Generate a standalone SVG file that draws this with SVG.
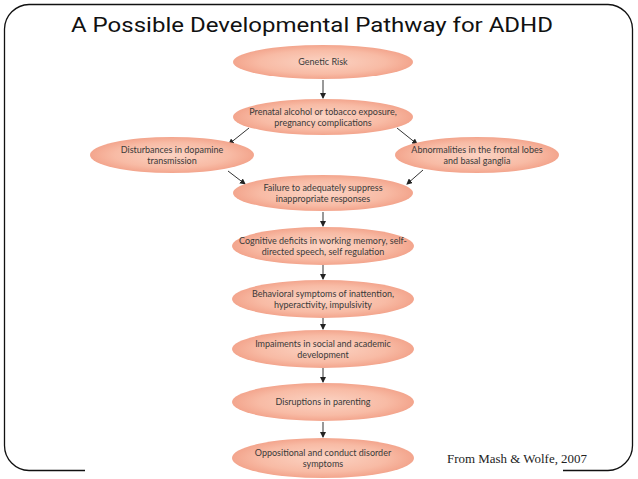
<svg xmlns="http://www.w3.org/2000/svg" width="638" height="479" viewBox="0 0 638 479">
<defs>
<radialGradient id="g" cx="50%" cy="50%" r="50%">
<stop offset="0%" stop-color="#fbd3c3"/>
<stop offset="70%" stop-color="#f8bba5"/>
<stop offset="100%" stop-color="#f3a58d"/>
</radialGradient>
<marker id="ah" markerWidth="6" markerHeight="6" refX="5" refY="3" orient="auto" markerUnits="userSpaceOnUse">
<path d="M0,0 L6,3 L0,6 z" fill="#222"/>
</marker>
<style>
.n ellipse{fill:url(#g);}
.n text{font-family:"Lato","Liberation Sans",sans-serif;font-size:9px;fill:#3a3a3a;text-anchor:middle;}
.c line{stroke:#333;stroke-width:1;marker-end:url(#ah);}
.frame{fill:none;stroke:#111;stroke-width:1.3;}
</style>
</defs>
<rect width="638" height="479" fill="#fff"/>
<path class="frame" d="M85,470.5 L29,470.5 A25,25 0 0 1 4.5,445.5 L4.5,29 A25,25 0 0 1 29,4.5 L608,4.5 A25,25 0 0 1 632.5,29 L632.5,445.5 A25,25 0 0 1 608,470.5 L563,470.5"/>
<text x="312" y="32" font-family="Roboto, Liberation Sans, sans-serif" font-size="21" fill="#111" text-anchor="middle" textLength="482" lengthAdjust="spacingAndGlyphs">A Possible Developmental Pathway for ADHD</text>
<g class="c">
<line x1="323" y1="80" x2="323" y2="98"/>
<line x1="249" y1="128" x2="229" y2="144"/>
<line x1="397" y1="128" x2="417" y2="144"/>
<line x1="228" y1="171" x2="245" y2="184"/>
<line x1="423" y1="170" x2="407" y2="184"/>
<line x1="323" y1="212" x2="323" y2="226"/>
<line x1="323" y1="265" x2="323" y2="279"/>
<line x1="323" y1="318" x2="323" y2="329"/>
<line x1="323" y1="368" x2="323" y2="382"/>
<line x1="323" y1="422" x2="323" y2="437"/>
</g>
<g id="genetic" class="n"><ellipse cx="323" cy="62" rx="90" ry="17"/><text x="323" y="65">Genetic Risk</text></g>
<g id="prenatal" class="n"><ellipse cx="323" cy="117" rx="90" ry="18"/><text x="323" y="115">Prenatal alcohol or tobacco exposure,</text><text x="323" y="126">pregnancy complications</text></g>
<g id="dopamine" class="n"><ellipse cx="172" cy="155" rx="82" ry="18"/><text x="172" y="153">Disturbances in dopamine</text><text x="172" y="164">transmission</text></g>
<g id="frontal" class="n"><ellipse cx="477" cy="155" rx="82" ry="18"/><text x="477" y="153">Abnormalities in the frontal lobes</text><text x="477" y="164">and basal ganglia</text></g>
<g id="failure" class="n"><ellipse cx="323" cy="193" rx="90" ry="18"/><text x="323" y="191">Failure to adequately suppress</text><text x="323" y="202">inappropriate responses</text></g>
<g id="cognitive" class="n"><ellipse cx="323" cy="246" rx="91" ry="19"/><text x="323" y="244">Cognitive deficits in working memory, self-</text><text x="323" y="255">directed speech, self regulation</text></g>
<g id="behavioral" class="n"><ellipse cx="323" cy="299" rx="91" ry="19"/><text x="323" y="297">Behavioral symptoms of inattention,</text><text x="323" y="308">hyperactivity, impulsivity</text></g>
<g id="impairments" class="n"><ellipse cx="323" cy="349" rx="91" ry="19"/><text x="323" y="347">Impaiments in social and academic</text><text x="323" y="358">development</text></g>
<g id="parenting" class="n"><ellipse cx="323" cy="402" rx="91" ry="19"/><text x="323" y="405">Disruptions in parenting</text></g>
<g id="oppositional" class="n"><ellipse cx="323" cy="458" rx="91" ry="20"/><text x="323" y="456">Oppositional and conduct disorder</text><text x="323" y="467">symptoms</text></g>
<text x="447" y="463" font-family="Liberation Serif, serif" font-size="11.5" fill="#222" textLength="140" lengthAdjust="spacingAndGlyphs">From Mash &amp; Wolfe, 2007</text>
</svg>
